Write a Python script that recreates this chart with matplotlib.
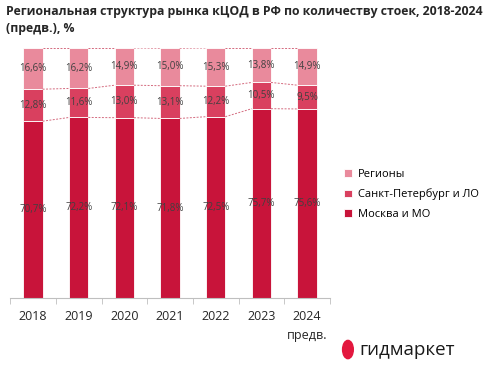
import numpy as np
import matplotlib.pyplot as plt
from matplotlib.patches import Ellipse

plt.rcParams['font.family'] = ['Open Sans', 'DejaVu Sans']

years = ['2018', '2019', '2020', '2021', '2022', '2023', '2024\nпредв.']
moscow = [70.7, 72.2, 72.1, 71.8, 72.5, 75.7, 75.6]
spb = [12.8, 11.6, 13.0, 13.1, 12.2, 10.5, 9.5]
regions = [16.6, 16.2, 14.9, 15.0, 15.3, 13.8, 14.9]

c_msk = '#C8143A'
c_spb = '#D9405F'
c_reg = '#E98A9C'

fig = plt.figure(figsize=(4.88, 3.66), dpi=100)
ax = fig.add_axes([0.021, 0.186, 0.655, 0.683])

x = np.arange(len(years))
w = 0.42
moscow = np.array(moscow)
spb = np.array(spb)
regions = np.array(regions)
b1 = moscow
b2 = moscow + spb
b3 = np.minimum(b2 + regions, 100)

ax.bar(x, moscow, w, color=c_msk, edgecolor='white', linewidth=0.6, label='Москва и МО')
ax.bar(x, spb, w, bottom=b1, color=c_spb, edgecolor='white', linewidth=0.6, label='Санкт-Петербург и ЛО')
ax.bar(x, b3 - b2, w, bottom=b2, color=c_reg, edgecolor='white', linewidth=0.6, label='Регионы')

# connector lines
for lvl in (b1, b2, b3):
    for i in range(len(x) - 1):
        ax.plot([x[i] + w / 2, x[i + 1] - w / 2], [lvl[i], lvl[i + 1]],
                ls=(0, (2, 1.5)), color='#D46A7E', lw=0.7)

def fmt(v):
    return f'{v:.1f}%'.replace('.', ',')

for i in range(len(x)):
    ax.text(x[i], b1[i] / 2, fmt(moscow[i]), ha='center', va='center', fontsize=7, color='#404040')
    ax.text(x[i], b1[i] + spb[i] / 2, fmt(spb[i]), ha='center', va='center', fontsize=7, color='#404040')
    ax.text(x[i], (b2[i] + b3[i]) / 2, fmt(regions[i]), ha='center', va='center', fontsize=7, color='#404040')

ax.set_xlim(-0.48, 6.4)
ax.set_ylim(0, 100)
ax.set_yticks([])
for s in ['left', 'right', 'top']:
    ax.spines[s].set_visible(False)
ax.spines['bottom'].set_color('#BFBFBF')
ax.set_xticks(np.arange(-0.5, 7, 1), minor=True)
ax.tick_params(axis='x', which='minor', length=4, color='#BFBFBF')
ax.tick_params(axis='x', which='major', length=0, labelsize=9, colors='#262626', pad=9)
ax.set_xticks(x)
ax.set_xticklabels(years, linespacing=1.6)

handles, labels = ax.get_legend_handles_labels()
fig.legend(handles[::-1], labels[::-1], loc='upper left', bbox_to_anchor=(0.685, 0.565),
           frameon=False, fontsize=8, handlelength=0.7, handleheight=0.7,
           handletextpad=0.5, labelspacing=0.75)

fig.text(0.012, 0.985, 'Региональная структура рынка кЦОД в РФ по количеству стоек, 2018-2024\n(предв.), %',
         fontsize=8.8, fontweight='bold', color='#262626', va='top', ha='left', linespacing=1.35)

# logo
fig.patches.append(Ellipse((0.713, 0.045), 0.022, 0.05, transform=fig.transFigure,
                           color='#E3173E', figure=fig))
fig.text(0.737, 0.045, 'гидмаркет', fontsize=13.5, color='#1A1A1A', va='center', ha='left')

fig.savefig('out.png', dpi=100)
